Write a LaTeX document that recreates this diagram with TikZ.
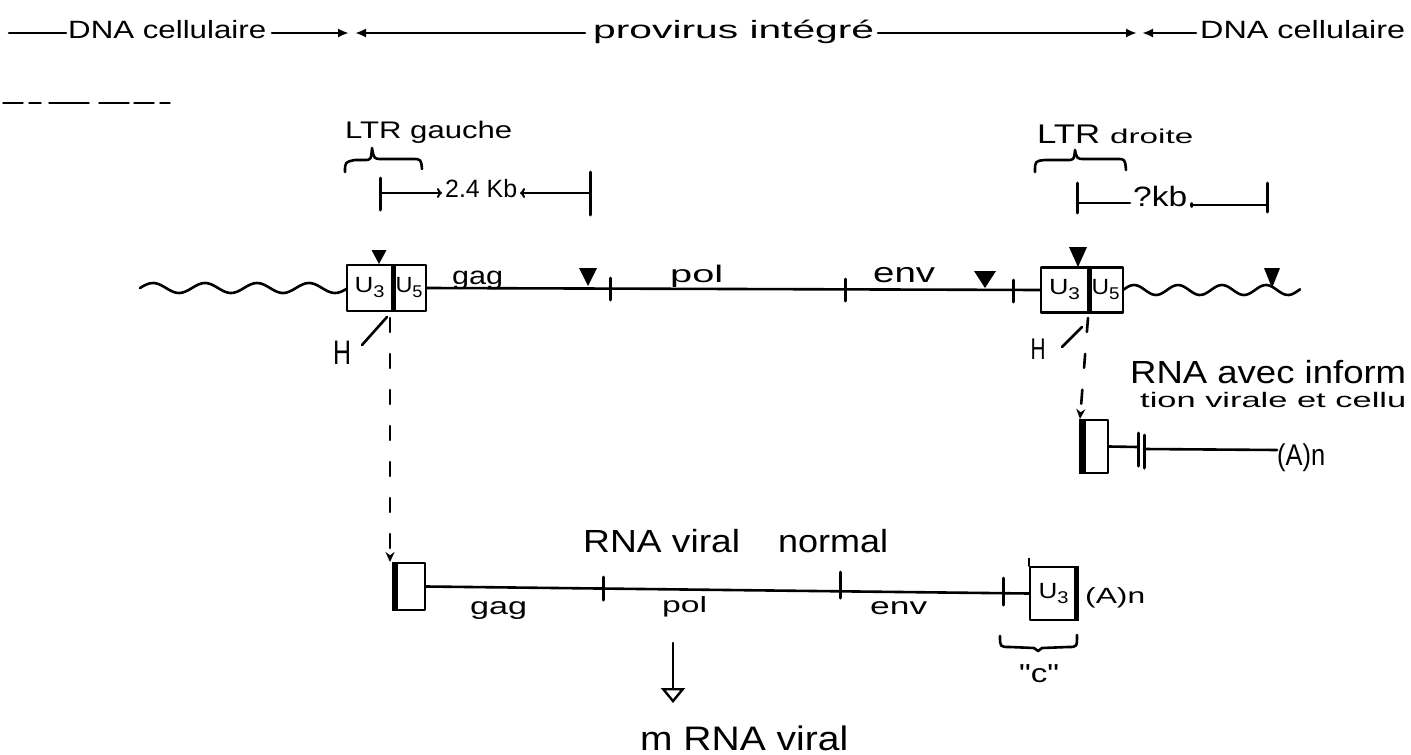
\documentclass[tikz,border=0pt]{standalone}
\usepackage{graphicx}
\usepackage{fontspec}
\setmainfont{Liberation Sans}
\usetikzlibrary{arrows.meta,calc}
\newcommand\hw[3]{{\fontsize{#1}{#1}\selectfont\resizebox{#2pt}{\height}{#3}}}
\newcommand\Usub[1]{U\raisebox{-5pt}{\fontsize{17}{17}\selectfont #1}}
\newcommand\trimk[4]{\fill ({#1-#3/2},{#2-#4}) -- ({#1+#3/2},{#2-#4}) -- (#1,#2) -- cycle;}
\begin{document}
\begin{tikzpicture}[x=1pt,y=-1pt,line cap=round,line join=round,
  ln/.style={line width=2.6pt},
  lbl/.style={inner sep=0pt,anchor=base west},
  bx/.style={draw,line width=2.4pt,inner sep=0pt,rectangle},
  tk/.style={line width=3pt},
  dsh/.style={line width=2.6pt,dash pattern=on 14pt off 22pt},
  hd/.style={-{Latex[length=11pt,width=9pt]}},
  oa/.style={-{To[length=5pt,width=10pt,line width=2pt]}}]
\useasboundingbox (0,0) rectangle (1411,755);
\clip (0,0) rectangle (1411,755);

% ---------- top row ----------
\node[lbl] (dnaL) at (68,38) {\hw{25}{198}{DNA cellulaire}};
\node[lbl] (prov) at (593,38) {\hw{25}{281}{provirus intégré}};
\node[lbl] (dnaR) at (1200,38) {\hw{25}{205}{DNA cellulaire}};
\draw[ln] (9,33) -- (66,33);
\draw[ln,hd] (272,33) -- (349,33);
\draw[ln,hd] (585,33) -- (355,33);
\draw[ln,hd] (878,33) -- (1137,33);
\draw[ln,hd] (1196,33) -- (1142,33);

% faint broken line
\draw[line width=1.4pt,dash pattern=on 20pt off 6pt on 12pt off 8pt on 40pt off 10pt on 30pt off 5pt] (3,103) -- (170,103);

% ---------- LTR gauche ----------
\node[lbl] (ltrg) at (345,138) {\hw{24}{167}{LTR gauche}};
\draw[ln] (345,172) .. controls (345,162) .. (355,160) -- (364,160) .. controls (371,160) .. (372,148)
  .. controls (374,159) .. (382,159) -- (412,159) .. controls (421,159) .. (422,169);
\draw[tk] (380,178) -- (380,210);
\draw[ln,oa] (380,193) -- (442,193);
\node[lbl] (kb1) at (445,197) {\hw{25}{72}{2.4 Kb}};
\draw[ln,oa] (590,193) -- (520,193);
\draw[tk] (590,172) -- (590,215);

% ---------- LTR droite ----------
\node[lbl] (ltrd1) at (1037,143) {\hw{27}{63}{LTR}};
\node[lbl] (ltrd2) at (1110,143) {\hw{20}{83}{droite}};
\draw[ln] (1035,172) .. controls (1035,161) .. (1045,160) -- (1067,160) .. controls (1074,160) .. (1075,150)
  .. controls (1077,159) .. (1085,159) -- (1117,159) .. controls (1125,159) .. (1126,170);
\draw[tk] (1077,183) -- (1077,213);
\draw[ln] (1077,203) -- (1130,203);
\node[lbl] (kb2) at (1133,206) {\hw{28}{54}{?kb}};
\draw[ln,-{To[length=3pt,width=6pt]}] (1267,205) -- (1190,205);
\draw[tk] (1267,183) -- (1267,212);

% ---------- provirus line ----------
\node[bx,minimum width=45pt,minimum height=46pt] (L3) at (369.5,288) {\hw{22}{30}{\Usub{3}}};
\node[bx,minimum width=34pt,minimum height=46pt] (L5) at (409,288) {\hw{22}{27}{\Usub{5}}};
\draw[line width=5pt,line cap=butt] (L3.north east) -- (L3.south east);
\node[bx,minimum width=47pt,minimum height=45pt] (R3) at (1064.5,290) {\hw{22}{31}{\Usub{3}}};
\node[bx,minimum width=35pt,minimum height=45pt] (R5) at (1105.5,290) {\hw{22}{28}{\Usub{5}}};
\draw[line width=5pt,line cap=butt] (R3.north east) -- (R3.south east);

\draw[ln] plot[smooth,domain=0:207,samples=90] ({140+\x},{288-5*sin(\x/52*360)});
\draw[ln] plot[smooth,domain=0:177,samples=80] ({1123+\x},{290-5*sin(\x/44*360)});
\draw[ln] (L5.east) -- (R3.west);
\draw[tk] (610,278) -- (610,300);
\draw[tk] (845,279) -- (845,301);
\draw[tk] (1013,280) -- (1013,302);
\trimk{379}{264}{15}{14}
\trimk{588}{286}{18}{18}
\trimk{985}{288}{22}{17}
\trimk{1078}{267}{18}{20}
\trimk{1272}{288}{16}{20}

\node[lbl] (gag1) at (452,284) {\hw{25}{51}{gag}};
\node[lbl] (pol1) at (670,282) {\hw{24}{53}{pol}};
\node[lbl] (env1) at (873,282) {\hw{28}{62}{env}};

\node (hL) at (342,353) {\hw{34}{18}{H}};
\node (hR) at (1038,349) {\hw{30}{15}{H}};
\draw[ln] (362,345) -- (387,317);
\draw[ln] (1062,347) -- (1082,327);

% ---------- right RNA ----------
\node[bx,minimum width=28pt,minimum height=53pt] (rb) at (1094,446.5) {};
\draw[line width=7pt,line cap=butt] ($(rb.north west)+(3.5,0)$) -- ($(rb.south west)+(3.5,0)$);
\draw[dsh,-{Stealth[length=10pt,width=9pt]}] (1088,318) -- (1080,419);
\draw[ln] (rb.east) -- (1138,447);
\draw[tk] (1138,433) -- (1138,466);
\draw[tk] (1144,435) -- (1144,468);
\node[lbl] (An1) at (1277,465) {\hw{30}{48}{(A)n}};
\draw[ln] (1144,449) -- (An1.west |- 0,450);
\node[lbl] (rnaav) at (1130,383) {\hw{32}{276}{RNA avec inform}};
\node[lbl] (tvc) at (1140,407) {\hw{21}{266}{tion virale et cellu}};

% ---------- normal viral RNA ----------
\node[bx,minimum width=32pt,minimum height=47pt] (Lb) at (409,586.5) {};
\draw[line width=6pt,line cap=butt] ($(Lb.north west)+(3,0)$) -- ($(Lb.south west)+(3,0)$);
\draw[dsh,-{Stealth[length=10pt,width=9pt]}] (390,318) -- (390,562);
\node[bx,minimum width=47pt,minimum height=53pt] (Rb) at (1053.5,593.5) {\hw{22}{30}{\Usub{3}}};
\draw[line width=5pt,line cap=butt] ($(Rb.north east)+(-2,0)$) -- ($(Rb.south east)+(-2,0)$);
\draw[ln] (Rb.north west) -- ++(0,-7);
\draw[ln] (Lb.east) -- (Rb.west);
\draw[tk] (603,577) -- (603,600);
\draw[tk] (840,572) -- (840,598);
\draw[tk] (1003,578) -- (1003,605);
\node[lbl] (An2) at (1085,603) {\hw{22}{60}{(A)n}};

\node[lbl] (rv) at (583,552) {\hw{32}{157}{RNA viral}};
\node[lbl] (nm) at (778,552) {\hw{32}{110}{normal}};
\node[lbl] (gag2) at (470,614) {\hw{24}{57}{gag}};
\node[lbl] (pol2) at (662,612) {\hw{22}{45}{pol}};
\node[lbl] (env2) at (870,614) {\hw{24}{57}{env}};

\node[lbl] (mrna) at (640,750) {\hw{34}{208}{m RNA viral}};
\draw[ln,-{Triangle[open,length=15pt,width=24pt,line width=2.4pt]}] (673,643) -- (673,703);

\draw[ln] (1000,636) .. controls (1000,647) .. (1010,647) -- (1034,648) -- (1038,651) -- (1042,648) -- (1068,647) .. controls (1077,647) .. (1077,635);
\node[lbl] (cc) at (1019,682) {\hw{26}{40}{\textquotedbl c\textquotedbl}};
\end{tikzpicture}
\end{document}
